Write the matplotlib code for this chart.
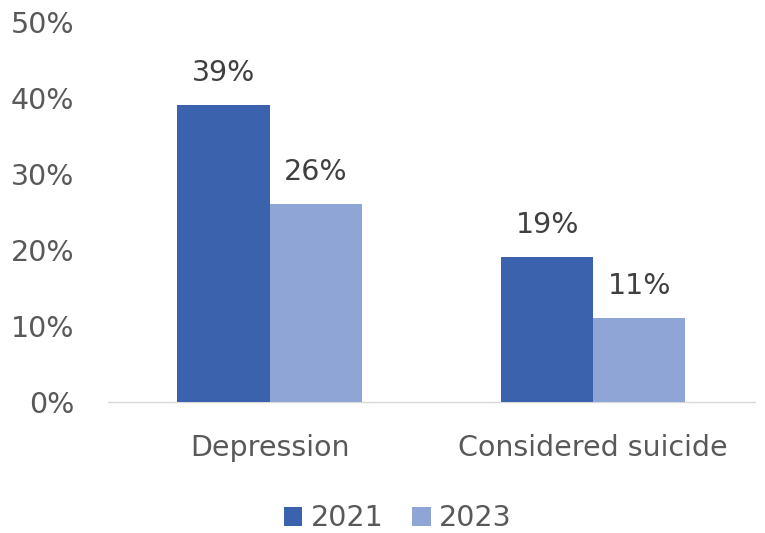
import numpy as np
import matplotlib.pyplot as plt

categories = ["Depression", "Considered suicide"]
series_names = ["2021", "2023"]
values_2021 = [39, 19]
values_2023 = [26, 11]
yticks = [0, 10, 20, 30, 40, 50]

colors = ["#3A62AD", "#8FA5D5"]
text_col = "#595959"
fs = 20.5

plt.rcParams["font.family"] = ["DejaVu Sans"]

fig = plt.figure(figsize=(7.65, 5.33), dpi=100)
ax = fig.add_axes([0.141, 0.246, 0.846, 0.713])

x = np.arange(len(categories))
w = 0.285
for i, (vals, name) in enumerate(zip([values_2021, values_2023], series_names)):
    pos = x + (i - 0.5) * w
    bars = ax.bar(pos, vals, width=w, color=colors[i], label=name, zorder=3)
    for b, v in zip(bars, vals):
        ax.text(b.get_x() + b.get_width() / 2, v + 2.4, f"{v}%",
                ha="center", va="bottom", fontsize=fs, color="#404040")

ax.set_xlim(-0.5, 1.5)
ax.set_ylim(0, 50)
ax.set_yticks(yticks)
ax.set_yticklabels([f"{t}%" for t in yticks], fontsize=fs, color=text_col)
ax.set_xticks(x)
ax.set_xticklabels(categories, fontsize=fs, color=text_col)
ax.tick_params(axis="both", length=0)
ax.tick_params(axis="x", pad=23)
ax.tick_params(axis="y", pad=24)
for s in ["top", "right", "left"]:
    ax.spines[s].set_visible(False)
ax.spines["bottom"].set_color("#D9D9D9")
ax.spines["bottom"].set_linewidth(1.0)

fig.legend(loc="center", bbox_to_anchor=(0.52, 0.028), ncol=2, frameon=False,
           fontsize=fs, labelcolor=text_col, handlelength=0.65, handleheight=0.65,
           handletextpad=0.3, columnspacing=1.0)

fig.savefig("out.png", dpi=100, facecolor="white")
